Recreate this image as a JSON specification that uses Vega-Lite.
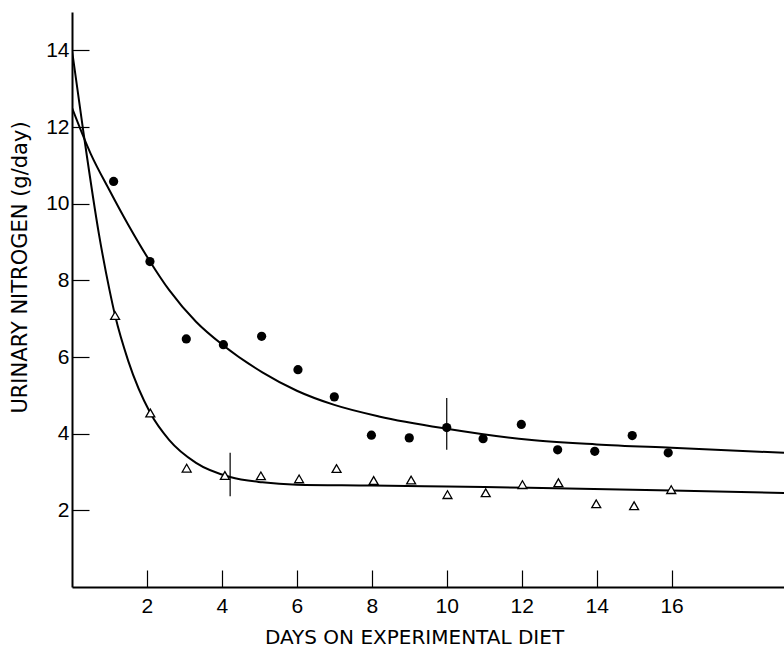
{
  "$schema": "https://vega.github.io/schema/vega-lite/v6.json",
  "width": 712,
  "height": 575,
  "autosize": "none",
  "padding": {"left": 72, "top": 12, "right": 0, "bottom": 62},
  "background": "white",
  "config": {
    "view": {"stroke": null},
    "font": "Liberation Sans",
    "axis": {
      "grid": false,
      "domainColor": "black",
      "domainWidth": 2,
      "tickColor": "black",
      "tickWidth": 1.2,
      "labelColor": "black",
      "titleColor": "black",
      "labelFont": "Liberation Sans",
      "titleFont": "DejaVu Sans",
      "titleFontWeight": "normal",
      "labelFontSize": 21,
      "titleFontSize": 20
    }
  },
  "datasets": {
    "circles": [
      {"day": 1.11, "n": 10.58}, {"day": 2.08, "n": 8.49}, {"day": 3.05, "n": 6.47},
      {"day": 4.04, "n": 6.32}, {"day": 5.06, "n": 6.54}, {"day": 6.03, "n": 5.67},
      {"day": 7.0, "n": 4.96}, {"day": 7.99, "n": 3.96}, {"day": 9.0, "n": 3.89},
      {"day": 10.0, "n": 4.16}, {"day": 10.97, "n": 3.87}, {"day": 11.99, "n": 4.24},
      {"day": 12.96, "n": 3.58}, {"day": 13.95, "n": 3.54}, {"day": 14.95, "n": 3.95},
      {"day": 15.91, "n": 3.5}
    ],
    "triangles": [
      {"day": 1.15, "n": 7.08}, {"day": 2.09, "n": 4.54}, {"day": 3.06, "n": 3.1},
      {"day": 4.08, "n": 2.91}, {"day": 5.04, "n": 2.9}, {"day": 6.06, "n": 2.82},
      {"day": 7.06, "n": 3.09}, {"day": 8.05, "n": 2.78}, {"day": 9.05, "n": 2.79},
      {"day": 10.02, "n": 2.41}, {"day": 11.04, "n": 2.46}, {"day": 12.02, "n": 2.67},
      {"day": 12.98, "n": 2.72}, {"day": 13.99, "n": 2.17}, {"day": 15.0, "n": 2.12},
      {"day": 15.99, "n": 2.54}
    ],
    "curves": [
      {"series": "A", "day": 0.0, "n": 12.5}, {"series": "A", "day": 0.5, "n": 11.3},
      {"series": "A", "day": 1.0, "n": 10.35}, {"series": "A", "day": 1.5, "n": 9.45},
      {"series": "A", "day": 2.09, "n": 8.48}, {"series": "A", "day": 2.59, "n": 7.75},
      {"series": "A", "day": 3.31, "n": 6.92}, {"series": "A", "day": 4.04, "n": 6.3},
      {"series": "A", "day": 5.08, "n": 5.6}, {"series": "A", "day": 6.0, "n": 5.12},
      {"series": "A", "day": 7.0, "n": 4.75}, {"series": "A", "day": 8.19, "n": 4.45},
      {"series": "A", "day": 10.0, "n": 4.13}, {"series": "A", "day": 12.2, "n": 3.84},
      {"series": "A", "day": 14.0, "n": 3.72}, {"series": "A", "day": 16.0, "n": 3.63},
      {"series": "A", "day": 19.0, "n": 3.5},
      {"series": "B", "day": 0.0, "n": 14.0}, {"series": "B", "day": 0.3, "n": 11.9},
      {"series": "B", "day": 0.72, "n": 9.2}, {"series": "B", "day": 1.0, "n": 7.75},
      {"series": "B", "day": 1.15, "n": 7.08}, {"series": "B", "day": 1.5, "n": 5.9},
      {"series": "B", "day": 2.09, "n": 4.54}, {"series": "B", "day": 2.59, "n": 3.84},
      {"series": "B", "day": 3.31, "n": 3.24}, {"series": "B", "day": 4.22, "n": 2.87},
      {"series": "B", "day": 5.08, "n": 2.73}, {"series": "B", "day": 6.0, "n": 2.67},
      {"series": "B", "day": 8.0, "n": 2.65}, {"series": "B", "day": 10.0, "n": 2.62},
      {"series": "B", "day": 12.2, "n": 2.59}, {"series": "B", "day": 16.0, "n": 2.52},
      {"series": "B", "day": 19.0, "n": 2.45}
    ],
    "errors": [
      {"day": 10.0, "lo": 3.58, "hi": 4.93},
      {"day": 4.22, "lo": 2.37, "hi": 3.5}
    ]
  },
  "layer": [
    {
      "data": {"name": "curves"},
      "mark": {"type": "line", "color": "black", "strokeWidth": 2, "interpolate": "monotone", "clip": true},
      "encoding": {
        "x": {
          "field": "day", "type": "quantitative",
          "scale": {"domain": [0, 19], "nice": false, "zero": false},
          "axis": {
            "values": [2, 4, 6, 8, 10, 12, 14, 16],
            "tickSize": -17,
            "labelPadding": 25,
            "labelFlush": false,
            "title": "DAYS ON EXPERIMENTAL DIET",
            "titleX": 342,
            "titleY": 56,
            "titleAnchor": null,
            "titleAlign": "center",
            "titleBaseline": "alphabetic"
          }
        },
        "y": {
          "field": "n", "type": "quantitative",
          "scale": {"domain": [0, 15], "nice": false},
          "axis": {
            "values": [2, 4, 6, 8, 10, 12, 14],
            "tickSize": -17,
            "labelPadding": 20,
            "title": "URINARY NITROGEN (g/day)",
            "titleFontSize": 21,
            "titleX": -52,
            "titleY": 255,
            "titleAngle": -90,
            "titleAlign": "center",
            "titleBaseline": "middle"
          }
        },
        "detail": {"field": "series"}
      }
    },
    {
      "data": {"name": "errors"},
      "mark": {"type": "rule", "color": "black", "strokeWidth": 1.2},
      "encoding": {
        "x": {"field": "day", "type": "quantitative"},
        "y": {"field": "lo", "type": "quantitative"},
        "y2": {"field": "hi"}
      }
    },
    {
      "data": {"name": "circles"},
      "mark": {"type": "point", "shape": "circle", "filled": true, "color": "black", "size": 85, "opacity": 1},
      "encoding": {
        "x": {"field": "day", "type": "quantitative"},
        "y": {"field": "n", "type": "quantitative"}
      }
    },
    {
      "data": {"name": "triangles"},
      "mark": {"type": "point", "shape": "triangle-up", "filled": false, "fill": "white", "stroke": "black", "strokeWidth": 1.3, "size": 80, "opacity": 1},
      "encoding": {
        "x": {"field": "day", "type": "quantitative"},
        "y": {"field": "n", "type": "quantitative"}
      }
    }
  ]
}
